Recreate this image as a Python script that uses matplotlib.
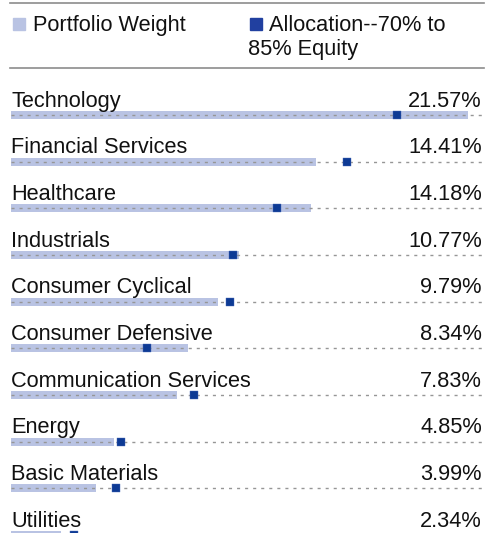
import matplotlib
matplotlib.use("Agg")
import matplotlib.pyplot as plt

categories = ["Technology", "Financial Services", "Healthcare", "Industrials",
              "Consumer Cyclical", "Consumer Defensive", "Communication Services",
              "Energy", "Basic Materials", "Utilities"]
portfolio_weight = [21.57, 14.41, 14.18, 10.77, 9.79, 8.34, 7.83, 4.85, 3.99, 2.34]
allocation = [18.2, 15.85, 12.55, 10.48, 10.33, 6.42, 8.64, 5.19, 4.96, 2.97]
value_labels = ["21.57%", "14.41%", "14.18%", "10.77%", "9.79%", "8.34%",
                "7.83%", "4.85%", "3.99%", "2.34%"]
legend_labels = ["Portfolio Weight", "Allocation--70% to\n85% Equity"]

BAR_COLOR = "#b9c3e3"
MARK_COLOR = "#0d3a94"
LEG_MARK = "#2140a0"
GRAY = "#8c8c8c"

plt.rcParams['font.family'] = ['Liberation Sans', 'DejaVu Sans']

W, H = 486, 533
fig = plt.figure(figsize=(W / 100, H / 100), dpi=100)

ppu = 21.19          # pixels per percent
x0 = 11              # pixel of zero
xmax = (482 - x0) / ppu
row_h = 46.67
row0 = 115

ax = fig.add_axes([0, 0, 1, 1])
ax.set_xlim(-x0 / ppu, (W - x0) / ppu)
ax.set_ylim((H - row0) / row_h, -row0 / row_h)
ax.axis("off")

ys = list(range(len(categories)))
bar_h = 8 / row_h
ax.barh(ys, portfolio_weight, height=bar_h, color=BAR_COLOR, zorder=1)
ax.hlines(ys, 0, xmax, colors="#969696", linewidth=1.0,
          linestyles=(0, (2.2, 3.6)), zorder=2)
ax.scatter(allocation, ys, marker="s", s=36, color=MARK_COLOR,
           edgecolors="#4a6ab8", linewidths=0.3, zorder=3)

fs = 15.7
base_off = 8.5 / row_h
for y, cat, lab in zip(ys, categories, value_labels):
    ax.text(0, y - base_off, cat, ha="left", va="baseline", fontsize=fs, color="#111111")
    ax.text(xmax, y - base_off, lab, ha="right", va="baseline", fontsize=fs, color="#111111")

# legend area (figure pixel coords)
def fy(py):
    return 1 - py / H

def fx(px):
    return px / W

for py in (2.7, 68):
    fig.add_artist(plt.Line2D([fx(10), fx(484)], [fy(py), fy(py)], color=GRAY,
                              linewidth=1.2, transform=fig.transFigure))

fig.add_artist(plt.Rectangle((fx(12.5), fy(29.5)), 12.5 / W, 11.5 / H,
                             color=BAR_COLOR, transform=fig.transFigure))
fig.text(fx(33), fy(31), legend_labels[0], ha="left", va="baseline", fontsize=fs, color="#111111")

fig.add_artist(plt.Rectangle((fx(249.5), fy(29.5)), 12.5 / W, 11.5 / H,
                             color=LEG_MARK, transform=fig.transFigure))
line1, line2 = legend_labels[1].split("\n")
fig.text(fx(269), fy(31), line1, ha="left", va="baseline", fontsize=fs, color="#111111")
fig.text(fx(248), fy(55), line2, ha="left", va="baseline", fontsize=fs, color="#111111")

fig.savefig("out.png", dpi=100)
